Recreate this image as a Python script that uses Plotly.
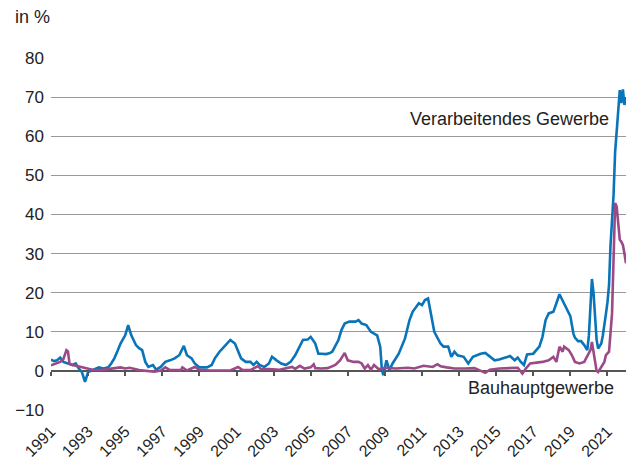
import plotly.graph_objects as go

# Verarbeitendes Gewerbe (blue)
vg_dates = ["1991-01","1991-03","1991-05","1991-07","1991-09","1991-12","1992-03","1992-05","1992-07","1992-09","1992-11","1993-01",
"1993-04","1993-08","1993-11","1994-02","1994-04","1994-06","1994-08","1994-10","1995-01","1995-03","1995-05","1995-08","1995-10","1995-12",
"1996-02","1996-04","1996-07","1996-09","1996-12","1997-03","1997-06","1997-09","1997-12","1998-03","1998-05","1998-08","1998-10",
"1999-01","1999-06","1999-09","1999-11","2000-02","2000-06","2000-09","2000-12","2001-03","2001-04","2001-07","2001-10","2001-12",
"2002-02","2002-04","2002-07","2002-10","2002-12","2003-03","2003-06","2003-09","2003-12","2004-03","2004-06","2004-08","2004-11",
"2005-01","2005-04","2005-06","2005-08","2005-11","2006-01","2006-03","2006-05","2006-07","2006-09","2006-11","2007-02","2007-06",
"2007-08","2007-10","2008-01","2008-04","2008-08","2008-10","2008-11","2008-12","2009-02","2009-04","2009-06","2009-10","2010-02",
"2010-05","2010-07","2010-11","2011-01","2011-03","2011-05","2011-07","2011-09","2012-01","2012-03","2012-06","2012-08","2012-10",
"2012-12","2013-04","2013-07","2013-10","2014-03","2014-06","2014-09","2014-12","2015-03","2015-07","2015-10","2016-01","2016-03",
"2016-05","2016-07","2016-09","2017-01","2017-03","2017-05","2017-07","2017-09","2017-11","2018-02","2018-04","2018-06","2018-08",
"2018-10","2019-01","2019-03","2019-04","2019-06","2019-08","2019-10","2019-12","2020-01","2020-02","2020-03","2020-04","2020-05",
"2020-06","2020-07","2020-08","2020-09","2020-10","2020-11","2020-12","2021-01","2021-02","2021-03","2021-04","2021-05","2021-06",
"2021-07","2021-08","2021-09","2021-10","2021-11","2021-12","2022-01"]
vg_values = [2.9,2.5,2.7,3.4,2.3,2.0,1.5,1.9,0.6,-0.3,-2.8,-0.3,
0.2,0.9,0.6,0.9,1.9,3.2,5.0,7.0,9.1,11.7,9.1,6.6,5.8,5.3,
2.3,1.0,1.5,0.3,1.0,2.3,2.7,3.2,4.0,6.4,4.0,3.2,1.9,
0.9,0.9,1.5,3.2,4.9,6.6,7.9,7.0,4.4,3.2,2.3,2.3,1.5,
2.3,1.5,1.0,1.9,3.6,2.7,1.9,1.5,2.3,4.0,6.2,7.9,8.0,
8.7,7.0,4.4,4.4,4.3,4.5,4.9,6.4,7.9,10.5,12.1,12.6,12.6,
13.0,12.1,11.7,10.0,9.1,6.2,0.6,-1.1,2.7,0.2,1.9,4.4,8.3,
13.0,15.1,17.3,16.8,18.1,18.5,14.0,10.0,7.0,6.2,6.2,3.6,4.9,
4.0,3.6,1.9,3.6,4.4,4.6,3.6,2.7,2.9,3.4,3.8,2.7,3.4,
2.3,1.5,4.2,4.4,5.3,6.2,8.7,13.0,14.7,15.1,17.3,19.6,18.0,
16.5,14.0,9.6,8.5,7.6,7.6,6.6,5.3,9.0,18.0,23.5,20.0,13.0,
8.0,5.7,6.3,7.0,9.0,11.3,14.5,17.5,22.0,31.8,38.0,45.0,56.0,
61.5,64.5,71.8,68.5,72.0,68.0,70.0]

# Bauhauptgewerbe (purple)
bg_dates = ["1991-01","1991-04","1991-07","1991-09","1991-11","1991-12","1992-01","1992-03","1992-08","1993-01","1993-04","1993-09",
"1994-01","1994-06","1994-10","1995-01","1995-04","1995-10","1996-04","1996-08","1996-12","1997-03","1997-06","1998-01","1998-02",
"1998-05","1998-10","1999-01","1999-08","2000-02","2000-09","2001-02","2001-05","2001-10","2002-03","2002-05","2002-10","2003-05",
"2004-01","2004-03","2004-06","2004-09","2005-01","2005-03","2005-04","2005-08","2005-12","2006-05","2006-08","2006-11","2007-01",
"2007-05","2007-08","2007-10","2007-12","2008-02","2008-04","2008-06","2008-09","2009-01","2009-08","2010-04","2010-08","2011-02",
"2011-08","2011-11","2012-01","2012-05","2012-10","2013-05","2013-11","2014-06","2014-09","2015-03","2015-10","2016-03","2016-06",
"2016-08","2016-11","2017-03","2017-07","2017-11","2018-02","2018-04","2018-05","2018-06","2018-08","2018-09","2018-12","2019-02",
"2019-04","2019-07","2019-10","2020-01","2020-02","2020-03","2020-05","2020-06","2020-07","2020-09","2020-11","2020-12","2021-02",
"2021-04","2021-05","2021-06","2021-07","2021-08","2021-09","2021-10","2021-11","2021-12","2022-01"]
bg_values = [1.4,1.8,2.3,3.0,5.3,5.0,1.8,1.5,1.0,0.6,0.3,0.2,
0.4,0.8,0.9,0.6,0.8,0.2,0.0,-0.2,0.1,0.9,0.2,0.2,0.9,
0.1,1.0,0.3,0.1,0.1,0.1,1.0,0.2,0.2,1.2,0.4,0.5,0.3,
1.0,0.5,1.3,0.6,0.9,1.7,0.7,0.6,0.7,1.5,2.7,4.6,2.7,
2.3,2.3,1.9,0.6,1.5,0.3,1.5,0.4,0.8,0.6,0.8,0.6,1.3,
1.0,1.7,1.2,0.9,0.6,0.6,0.7,-0.5,0.3,0.6,0.8,0.8,-0.7,
0.5,1.9,2.1,2.3,2.7,3.6,2.3,4.0,6.2,4.9,6.2,5.3,4.0,
2.3,1.9,2.3,4.4,5.3,7.4,2.7,0.0,-0.3,1.0,2.3,4.0,4.9,
14.7,31.8,42.9,42.0,37.8,33.5,33.0,32.2,30.0,27.5]

tick_years = [str(y) for y in range(1991, 2022, 2)]
tick_vals = [f"{y}-01-01" for y in tick_years]
y_ticks = list(range(-10, 81, 10))

BLUE = "#0a74b9"
PURPLE = "#9b4a87"
FONT = "Liberation Sans"

fig = go.Figure()
fig.add_trace(go.Scatter(x=vg_dates, y=vg_values, mode="lines",
                         line=dict(color=BLUE, width=2.6), name="Verarbeitendes Gewerbe"))
fig.add_trace(go.Scatter(x=bg_dates, y=bg_values, mode="lines",
                         line=dict(color=PURPLE, width=2.6), name="Bauhauptgewerbe"))
# empty helper trace so the tick axis on the zero line is drawn
fig.add_trace(go.Scatter(x=[], y=[], xaxis="x2", yaxis="y", showlegend=False, hoverinfo="skip"))

x_range = ["1991-01-01", "2022-01-01"]
fig.update_layout(
    width=626, height=459,
    margin=dict(l=51, r=0, t=58, b=49, autoexpand=False),
    plot_bgcolor="white", paper_bgcolor="white",
    showlegend=False,
    font=dict(family=FONT, color="#222222"),
    xaxis=dict(type="date", range=x_range, tickvals=tick_vals, ticktext=tick_years,
               tickangle=-45, showgrid=False, showline=False, ticks="", automargin=False,
               tickfont=dict(size=16, color="#222222"), zeroline=False, ticklabelstandoff=8),
    xaxis2=dict(type="date", range=x_range, overlaying="x", anchor="free", position=10/90,
                tickvals=tick_vals, showticklabels=False, ticks="outside", ticklen=4,
                tickwidth=1.5, tickcolor="#555555", showgrid=False, showline=False, zeroline=False,
                automargin=False),
    yaxis=dict(range=[-10, 80], tickvals=y_ticks, showgrid=True, gridcolor="#999999", gridwidth=1.2,
               zeroline=True, zerolinecolor="#555555", zerolinewidth=2, automargin=False,
               tickfont=dict(size=17, color="#222222"), ticks="", showline=False,
               ticklabelstandoff=6),
)

fig.add_annotation(x="2021-03-20", y=64.4, xref="x", yref="y", text="Verarbeitendes Gewerbe",
                   showarrow=False, xanchor="right", yanchor="middle",
                   font=dict(size=18, color="#222222", family=FONT))
fig.add_annotation(x="2021-06-20", y=-4.5, xref="x", yref="y", text="Bauhauptgewerbe",
                   showarrow=False, xanchor="right", yanchor="middle",
                   font=dict(size=18, color="#222222", family=FONT))
fig.add_annotation(x=-0.066, y=1.116, xref="paper", yref="paper", text="in %",
                   showarrow=False, xanchor="left", yanchor="middle",
                   font=dict(size=18, color="#222222", family=FONT))

fig.write_html("out.html", post_script="document.body.style.margin='0';",
               config={"displayModeBar": False})
